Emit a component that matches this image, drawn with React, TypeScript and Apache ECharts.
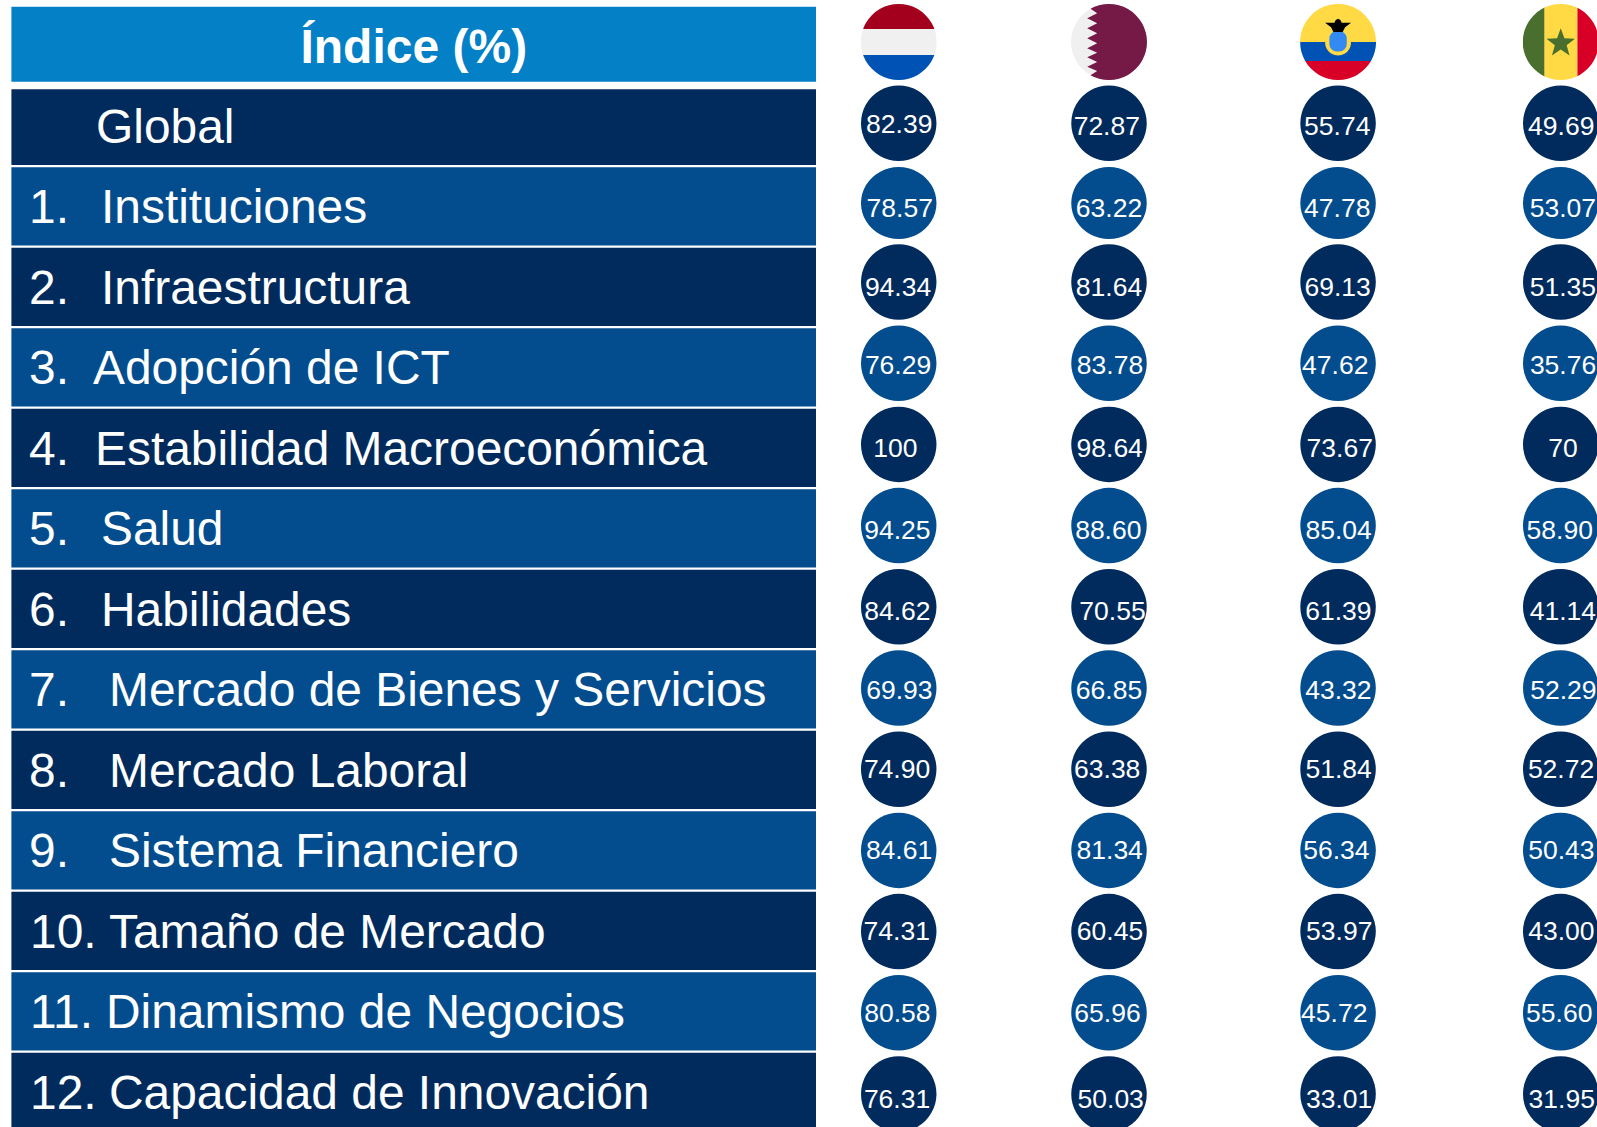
import React, { useEffect, useRef } from "react";
import * as echarts from "echarts";

// ---- data ----
const headerTitle = "Índice (%)";
const rowNumbers = ["", "1.", "2.", "3.", "4.", "5.", "6.", "7.", "8.", "9.", "10.", "11.", "12."];
const rowNames = [
  "Global",
  "Instituciones",
  "Infraestructura",
  "Adopción de ICT",
  "Estabilidad Macroeconómica",
  "Salud",
  "Habilidades",
  "Mercado de Bienes y Servicios",
  "Mercado Laboral",
  "Sistema Financiero",
  "Tamaño de Mercado",
  "Dinamismo de Negocios",
  "Capacidad de Innovación",
];
const countries = ["Países Bajos", "Qatar", "Ecuador", "Senegal"];
const netherlands = [82.39, 78.57, 94.34, 76.29, 100, 94.25, 84.62, 69.93, 74.9, 84.61, 74.31, 80.58, 76.31];
const qatar = [72.87, 63.22, 81.64, 83.78, 98.64, 88.6, 70.55, 66.85, 63.38, 81.34, 60.45, 65.96, 50.03];
const ecuador = [55.74, 47.78, 69.13, 47.62, 73.67, 85.04, 61.39, 43.32, 51.84, 56.34, 53.97, 45.72, 33.01];
const senegal = [49.69, 53.07, 51.35, 35.76, 70, 58.9, 41.14, 52.29, 52.72, 50.43, 43.0, 55.6, 31.95];
const countryValues = [netherlands, qatar, ecuador, senegal];

// ---- layout / style constants ----
const WIDTH = 1597;
const HEIGHT = 1127;
const DARK = "#002B5C";
const MID = "#034D8E";
const HEAD = "#0480C6";
const FONT = '"Liberation Sans", Arial, sans-serif';
const tableCategories = [headerTitle, ...rowNames];
const nameLeft = [96, 101, 101, 93, 95, 101, 101, 109, 109, 109, 109, 106, 109];
const numberLeft = [29, 29, 29, 29, 29, 29, 29, 29, 29, 29, 30, 30, 30];
// nudges of a column / row away from the regular grid of the circles
const colNudge = [0, -10.4, -2, 0];
const rowNudge = [3.6, 2.3];
const labelRowNudge = [2.7, 5, 5.3, 2, 3.7, 4.2, 4.5, 2, -0.3, -0.7, -1, 0, 4.5];
const labelColNudge = [
  [0.5, 1, -0.7, -0.7, -3.3, -1.3, -1.3, 0.7, -1.7, 0.3, -2, -1.3, -1.7],
  [-2.2, 0, 0, 1, 0.7, -0.7, 3.5, 0, -1.8, 0.7, 1, -1.5, 1.7],
  [-0.8, -0.8, -0.5, -2.8, 1.7, 0.5, 0.3, 0.3, 0.5, -1.7, 1.2, -3.8, 1],
  [0.5, 2.2, 2.2, 2.3, 2.3, -1, 2.2, 2.7, 0.3, 0.7, 0.7, -1.5, 1],
];

const fmt = (v: number) => (v === 100 || v === 70 ? String(v) : v.toFixed(2));

// flag artwork, in zoomed-crop units around the flag's centre
const FLAG_R = 38;
const u = (x: number, y: number, cx = 130.5, cy = 126) => [(x - cx) / 3, (y - cy) / 3];
const rect = (x: number, y: number, width: number, height: number, fill: string) => ({
  type: "rect",
  shape: { x, y, width, height },
  style: { fill },
});
const poly = (points: number[][], fill: string) => ({ type: "polygon", shape: { points }, style: { fill } });
const R = FLAG_R;
const qatarPts = [
  [75, 260], [75, 226], [95, 213], [65, 200], [95, 186], [65, 172], [95, 158], [65, 145], [95, 130],
  [65, 115], [95, 100], [65, 85], [95, 70], [65, 55], [95, 40], [75, 26], [75, 0], [260, 0], [260, 260],
].map((p) => u(p[0], p[1]));
const condorPts = [
  [90, 68], [118, 68], [122, 60], [129, 56], [136, 60], [140, 68], [168, 68], [150, 82], [143, 96],
  [115, 96], [108, 82],
].map((p) => u(p[0], p[1], 129, 126));
const starPts = Array.from({ length: 10 }, (_, i) => {
  const a = -Math.PI / 2 + (i * Math.PI) / 5;
  const r = i % 2 ? 6.2 : 15;
  return [r * Math.cos(a), 1.3 + r * Math.sin(a)];
});
const flags: any[][] = [
  [rect(-R, -R, 2 * R, 25, "#A2001D"), rect(-R, -13, 2 * R, 26, "#F0F0F0"), rect(-R, 13, 2 * R, 25, "#0052B4")],
  [rect(-R, -R, 2 * R, 2 * R, "#F0F0F0"), poly(qatarPts, "#751A46")],
  [
    rect(-R, -R, 2 * R, R, "#FFDA44"),
    rect(-R, 0, 2 * R, 19, "#0052B4"),
    rect(-R, 19, 2 * R, 19, "#D80027"),
    { type: "circle", shape: { cx: 0, cy: 0.5, r: 13 }, style: { fill: "#FFDA44" } },
    { type: "rect", shape: { x: -8.7, y: -11, width: 17.4, height: 20.5, r: 7.5 }, style: { fill: "#338AF3" } },
    poly(condorPts, "#000000"),
  ],
  [
    rect(-R, -R, 22, 2 * R, "#496E2D"),
    rect(-16.3, -R, 33, 2 * R, "#FFDA44"),
    rect(16.7, -R, 24, 2 * R, "#D80027"),
    poly(starPts, "#496E2D"),
  ],
];

function buildOption() {
  const tableData = tableCategories.map((_, i) => [1, i]);
  return {
    animation: false,
    backgroundColor: "#ffffff",
    grid: [
      { left: 11.4, top: 5.15, width: 804.6, height: 1127, outerBoundsMode: "none" },
      { left: 788.4, top: -2.2, width: 882.67, height: 1136.8, outerBoundsMode: "none" },
    ],
    xAxis: [
      { type: "value", gridIndex: 0, min: 0, max: 1, show: false },
      { type: "category", gridIndex: 1, data: countries, show: false },
    ],
    yAxis: [
      { type: "category", gridIndex: 0, inverse: true, data: tableCategories, show: false },
      { type: "category", gridIndex: 1, inverse: true, data: tableCategories, show: false },
    ],
    series: [
      {
        type: "custom",
        name: "Tabla",
        xAxisIndex: 0,
        yAxisIndex: 0,
        clip: false,
        data: tableData,
        renderItem: (_p: any, api: any) => {
          const i = api.value(1);
          const l = api.coord([0, i]);
          const r = api.coord([1, i]);
          const isHead = i === 0;
          const isGlobal = i === 1;
          const h = isHead ? 75 : isGlobal ? 75.7 : 78.4;
          const cy = l[1] + (isHead ? -1.2 : isGlobal ? 1.3 : 0);
          const textY = cy + (isGlobal ? -0.5 : 0.5);
          const fill = isHead ? HEAD : i % 2 === 1 ? DARK : MID;
          const children: any[] = [
            {
              type: "rect",
              shape: { x: l[0], y: cy - h / 2, width: r[0] - l[0], height: h },
              style: { fill },
            },
          ];
          if (isHead) {
            children.push({
              type: "text",
              style: {
                text: headerTitle,
                x: 413.8,
                y: cy + 2,
                fill: "#ffffff",
                font: `bold 48px ${FONT}`,
                align: "center",
                verticalAlign: "middle",
              },
            });
          } else {
            const k = i - 1;
            if (rowNumbers[k]) {
              children.push({
                type: "text",
                style: {
                  text: rowNumbers[k],
                  x: numberLeft[k],
                  y: textY,
                  fill: "#ffffff",
                  font: `47.9px ${FONT}`,
                  align: "left",
                  verticalAlign: "middle",
                },
              });
            }
            children.push({
              type: "text",
              style: {
                text: rowNames[k],
                x: nameLeft[k],
                y: textY,
                fill: "#ffffff",
                font: `47.9px ${FONT}`,
                align: "left",
                verticalAlign: "middle",
              },
            });
          }
          return { type: "group", children };
        },
      },
      {
        type: "custom",
        name: "Banderas",
        xAxisIndex: 1,
        yAxisIndex: 1,
        clip: false,
        data: countries.map((_, c) => [c, 0]),
        renderItem: (_p: any, api: any) => {
          const c = api.value(0);
          const p = api.coord([c, 0]);
          return {
            type: "group",
            x: p[0] + colNudge[c],
            y: p[1] + rowNudge[0],
            clipPath: { type: "circle", shape: { cx: 0, cy: 0, r: FLAG_R } },
            children: flags[c],
          };
        },
      },
      ...countries.map((name, c) => ({
        type: "scatter",
        name,
        xAxisIndex: 1,
        yAxisIndex: 1,
        clip: false,
        data: countryValues[c].map((v, k) => {
          const dyCircle = rowNudge[k] || 0;
          const dyLabel = c === 0 && k === 0 ? 1 : labelRowNudge[k];
          return {
            value: [c, k + 1, v],
            symbol: "circle",
            symbolSize: k === 1 ? [75.5, 72] : [75.5, 75.5],
            symbolOffset: [colNudge[c], dyCircle],
            itemStyle: { color: k % 2 === 0 ? DARK : MID, opacity: 1 },
            label: {
              show: true,
              position: "inside",
              formatter: fmt(v),
              offset: [labelColNudge[c][k], dyLabel],
              color: "#ffffff",
              fontFamily: FONT,
              fontSize: 26.5,
            },
          };
        }),
      })),
    ],
  };
}

export default function App() {
  const ref = useRef<HTMLDivElement>(null);
  useEffect(() => {
    const chart = echarts.init(ref.current!, undefined, { renderer: "svg" });
    chart.setOption(buildOption() as any);
    return () => chart.dispose();
  }, []);
  return <div ref={ref} style={{ position: "fixed", left: 0, top: 0, width: WIDTH, height: HEIGHT, background: "#fff" }} />;
}
